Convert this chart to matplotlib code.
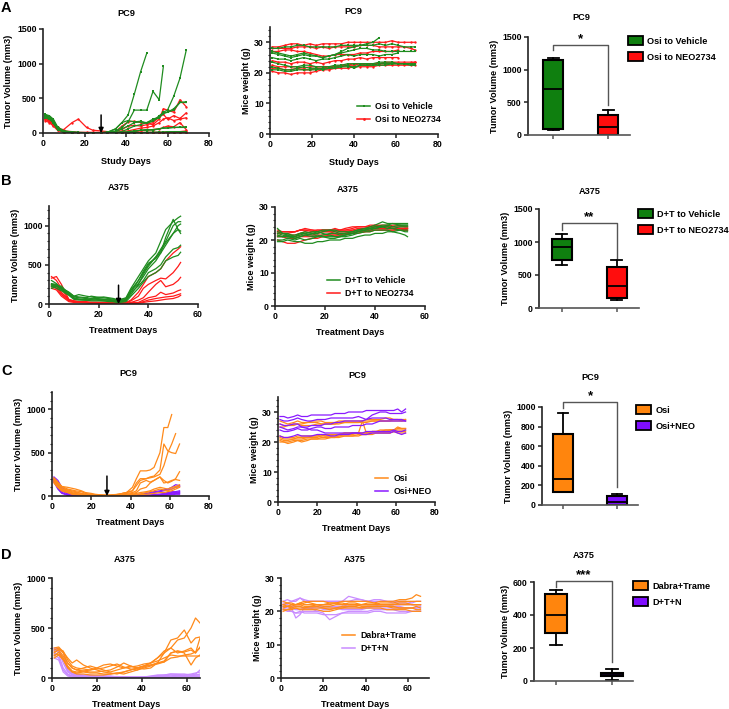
import matplotlib
matplotlib.use('Agg')
import matplotlib.pyplot as plt
import numpy as np
from matplotlib.patches import Patch
from matplotlib.lines import Line2D
from matplotlib.ticker import MultipleLocator

nan = np.nan

plt.rcParams['font.family'] = ['Liberation Sans', 'DejaVu Sans']
plt.rcParams['font.weight'] = 'bold'
plt.rcParams['axes.labelweight'] = 'bold'
plt.rcParams['font.size'] = 6

# colours
GREEN = '#1f8c1f'
RED = '#ff1a1a'
ORANGE = '#ff8a1a'
PURPLE = '#8a1aff'
LAVENDER = '#c98cff'

# ---------------- Panel A: PC9, Osi to Vehicle / NEO2734 ----------------
days_a = [1, 3, 5, 7, 10, 14, 17, 21, 24, 28, 31, 35, 38, 41, 44, 47, 50, 53, 56, 58, 60, 63, 66, 69]
a_tumor_veh = [
    [260, 240, 150, 60, 20, 10, 5, 5, 5, 5, 10, 60, 150, 260, 560, 880, 1150, nan, nan, nan, nan, nan, nan, nan],
    [270, 250, 180, 80, 30, 15, 10, 5, 5, 5, 10, 30, 80, 160, 330, 330, 330, 600, 480, 960, nan, nan, nan, nan],
    [240, 220, 160, 70, 25, 10, 5, 5, 5, 5, 5, 10, 20, 60, 100, 120, 150, 200, 230, 300, 330, 530, 790, 1190],
    [230, 250, 200, 90, 30, 10, 5, 5, 5, 5, 10, 60, 150, 180, 160, 170, 140, 170, 250, 290, 300, 350, 440, 450],
    [250, 230, 170, 70, 20, 5, 5, 5, 5, 5, 5, 5, 10, 20, 30, 40, 40, 50, 60, 70, 70, 80, 85, 90],
    [220, 200, 150, 60, 20, 5, 5, 5, 5, 5, 5, 5, 5, 10, 20, 40, 50, 40, 60, 70, 75, 80, 80, 80],
    [260, 230, 140, 50, 10, 5, 0, 0, 0, 0, 0, 0, 0, 5, 5, 5, 10, 10, 15, 15, 20, 20, 20, 20],
    [240, 210, 160, 70, 20, 10, 5, 5, 5, 5, 5, 20, 60, 100, 150, 160, 150, 180, 220, 280, 300, 330, 440, 440],
]
a_tumor_neo = [
    [200, 180, 120, 60, 50, 150, 200, 80, 40, 30, 20, 20, 100, 160, 170, 150, 140, 120, 200, 350, 330, 300, 480, 380],
    [220, 200, 150, 70, 30, 20, 10, 10, 10, 10, 10, 20, 50, 100, 110, 100, 120, 150, 230, 270, 200, 250, 210, 290],
    [210, 190, 130, 60, 20, 10, 5, 5, 5, 5, 5, 10, 20, 30, 50, 70, 80, 100, 150, 200, 220, 180, 200, 220],
    [200, 170, 120, 50, 15, 5, 5, 5, 5, 5, 5, 5, 5, 10, 20, 30, 40, 50, 60, 80, 100, 90, 150, 50],
    [240, 210, 170, 80, 20, 5, 0, 0, 0, 0, 0, 0, 0, 0, 5, 5, 10, 10, 10, 10, 15, 20, 20, 30],
    [180, 150, 100, 40, 10, 0, 0, 0, 0, 0, 0, 0, 0, 0, 0, 0, 0, 0, 5, 5, 5, 5, 5, 5],
    [230, 200, 140, 50, 10, 5, 5, 5, 5, 5, 5, 5, 5, 5, 5, 5, 5, 5, 5, 5, 10, 10, 10, 10],
]
days_aw = [1, 4, 7, 10, 13, 16, 19, 22, 25, 28, 31, 34, 37, 40, 43, 46, 49, 52, 55, 58, 61, 64, 67, 69]
a_weight_veh = [
    [27, 26.5, 26, 25.5, 26, 26.5, 26, 25.5, 25, 25.5, 26, 27, 28, 28.5, 29, 29.5, 30, 31.5, nan, nan, nan, nan, nan, nan],
    [28, 28, 28.5, 28.5, 29, 29, 28.5, 28.5, 28.5, 28.5, 28.5, 29, 29, 29, 29, 29, 29, 29.5, 29, 29.5, 29, 28.5, 28.5, 28.5],
    [26.5, 26, 25.5, 25, 25.5, 26, 25.5, 25.5, 25, 25.5, 26, 26.5, 27, 27.5, 28, 28, 27.5, 27.5, 27, 27, 27, 27, 27, 27],
    [25, 24.5, 24.5, 24, 24.5, 25, 24.5, 24, 24.5, 24.5, 25, 25.5, 26, 25.5, 26, 26, 26, 25.5, 26, 26, 26.5, nan, nan, nan],
    [22, 21.5, 21, 21, 21.5, 22, 21.5, 21.5, 21, 21.5, 22, 22, 22.5, 21.5, 22.5, 22.5, 22.5, 23, 23, 23, 23, 23, 23, 23],
    [21, 21, 20.5, 20.5, 21, 21, 21, 21, 21.5, 21.5, 21.5, 22, 22, 22, 22.5, 22.5, 22.5, 22.5, 22.5, 23, 23, 23, 22.5, 22.5],
    [23.5, 23, 22.5, 22, 22, 22.5, 22.5, 22, 22, 22, 22.5, 22.5, 23, 23, 23, 23, 23, 23.5, 23.5, 23.5, 23, 23, 23, 22.5],
]
a_weight_neo = [
    [28.5, 28.5, 29, 29.5, 29.5, 29, 29.5, 29, 29.5, 29.5, 29.5, 29.5, 30, 30, 30, 30, 30, 30, 30, 30.5, 30, 30, 30, 30],
    [28, 28, 28, 28, 28.5, 28.5, 28.5, 28, 28.5, 28, 28.5, 28.5, 28.5, 28.5, 29, 29, 29, 28.5, 28.5, 28.5, 28.5, 28.5, 28, 27.5],
    [24, 23.5, 23.5, 23, 23.5, 23.5, 23, 23.5, 23, 23.5, 24, 24, 24.5, 24.5, 25, 24.5, 25, 25, 25, 25, 25, nan, nan, nan],
    [21.5, 21.5, 21, 21, 21.5, 21, 21, 21.5, 21.5, 22, 22, 22.5, 22.5, 22.5, 23, 23, 23, 23, 23.5, 23.5, 23.5, 23.5, 23.5, 23.5],
    [20.5, 20, 20, 19.5, 20, 20, 20, 20.5, 21, 21, 21.5, 21.5, 21.5, 22, 22, 22, 22, 22.5, 22.5, 22.5, 22.5, 22.5, 22.5, 22.5],
    [22.5, 22, 22, 22, 22, 21.5, 22, 22, 22, 22, 22, 22.5, 22.5, 23, 23, 22.5, 23, 23, 23, 23, 23, 23, 23, 23.5],
    [27, 27, 27.5, 27.5, 27, 27, 26.5, 26, 25.5, 25.5, 26, 26, 26, 26, 26.5, 26.5, 27, 27, 27, 27, 27.5, nan, nan, nan],
]
# box stats: whisker low, q1, median, q3, whisker high
a_box_veh = [70, 90, 700, 1150, 1180]
a_box_neo = [0, 5, 130, 300, 380]

# ---------------- Panel B: A375, D+T to Vehicle / NEO2734 ----------------
days_b = [1, 3, 5, 8, 10, 12, 15, 17, 19, 22, 24, 26, 28, 31, 33, 36, 38, 40, 43, 45, 47, 50, 52, 53]
b_tumor_veh = [
    [300, 260, 200, 150, 100, 90, 80, 100, 90, 80, 70, 60, 50, 80, 200, 350, 450, 550, 650, 800, 950, 1050, 1100, 1120],
    [220, 230, 200, 140, 90, 80, 70, 60, 70, 60, 60, 50, 40, 60, 150, 300, 400, 500, 600, 700, 800, 1000, 1050, 1050],
    [250, 240, 210, 150, 100, 120, 100, 90, 80, 90, 80, 70, 50, 70, 180, 260, 350, 450, 550, 650, 850, 1080, 950, 930],
    [200, 220, 230, 120, 80, 60, 60, 70, 60, 50, 50, 40, 30, 50, 120, 250, 380, 480, 600, 650, 750, 900, 950, 900],
    [240, 230, 180, 120, 70, 60, 50, 50, 50, 40, 40, 30, 20, 40, 150, 230, 300, 400, 450, 500, 600, 700, 720, 750],
    [230, 200, 170, 110, 60, 50, 50, 40, 40, 40, 30, 30, 20, 30, 100, 200, 280, 350, 400, 450, 550, 600, 620, 660],
    [260, 250, 190, 130, 70, 60, 50, 60, 70, 60, 50, 40, 30, 50, 180, 300, 420, 520, 580, 680, 780, 900, 1000, 1020],
]
b_tumor_neo = [
    [330, 350, 250, 60, 40, 30, 30, 20, 20, 20, 20, 15, 10, 20, 50, 150, 250, 350, 400, 450, 550, 650, 700, 730],
    [350, 300, 200, 50, 30, 30, 20, 20, 20, 15, 15, 10, 10, 15, 40, 100, 200, 250, 300, 330, 320, 400, 480, 530],
    [250, 240, 150, 50, 40, 30, 20, 20, 20, 20, 15, 10, 10, 10, 20, 50, 80, 150, 250, 300, 220, 250, 300, 340],
    [220, 200, 120, 40, 30, 20, 20, 15, 15, 10, 10, 10, 5, 10, 15, 20, 50, 80, 100, 150, 120, 140, 170, 180],
    [200, 180, 100, 30, 20, 20, 15, 10, 10, 10, 10, 5, 5, 5, 10, 15, 30, 50, 70, 80, 90, 100, 120, 130],
    [240, 220, 140, 50, 30, 20, 20, 15, 15, 10, 10, 10, 5, 5, 10, 10, 20, 30, 40, 50, 60, 70, 90, 110],
]
b_weight_veh = [
    [23.5, 22, 22, 21, 22, 22.5, 22, 22, 22.5, 23, 22.5, 22, 22, 22.5, 23, 23.5, 24, 24.5, 25.5, 25, 25, 25, 25, 25],
    [21, 21, 21.5, 20.5, 21, 21.5, 21, 21, 21.5, 22, 22, 21.5, 21.5, 22, 22.5, 23, 23, 23.5, 24, 24.5, 24, 24.5, 24.5, 24.5],
    [20, 20, 20.5, 20, 20.5, 20, 20.5, 21, 21, 20.5, 20.5, 21, 21, 21.5, 22, 22.5, 22.5, 23, 23, 23, 22.5, 23, 22.5, 22.5],
    [22, 21.5, 21, 21, 21.5, 22, 22.5, 22.5, 22, 21.5, 21, 21, 21.5, 22, 22.5, 23, 23.5, 23.5, 24, 24, 23.5, 24, 24, 24],
    [19.5, 19.5, 20, 19.5, 19.5, 19, 19, 19.5, 19.5, 20, 20, 20, 20.5, 20.5, 21, 21.5, 21.5, 22, 22, 22.5, 22.5, 22, 21.5, 21],
    [22.5, 22, 21.5, 21.5, 22, 22, 21.5, 21.5, 21, 21, 21, 21, 21.5, 22, 22.5, 23, 23.5, 24, 24, 23.5, 23.5, 23, 23, 23],
    [21.5, 21, 21, 20.5, 21, 21.5, 22, 22.5, 23, 23, 23, 22.5, 22.5, 22.5, 23, 23.5, 23.5, 24, 24.5, 24.5, 25, 24.5, 24.5, 24.5],
]
b_weight_neo = [
    [23, 22.5, 22.5, 22.5, 23, 23.5, 23, 22.5, 23, 23, 23.5, 23, 23, 23.5, 24, 24, 24, 24.5, 24.5, 24.5, 24, 24, 24, 24],
    [22, 22, 21.5, 21.5, 22, 22.5, 22, 22, 22.5, 22.5, 22.5, 22.5, 22.5, 23, 23.5, 23.5, 23.5, 24, 24, 24, 23.5, 23.5, 23.5, 23.5],
    [20, 19.5, 19, 19, 19.5, 20, 20.5, 20.5, 21, 21.5, 21.5, 21.5, 22, 22, 22, 22.5, 23, 23, 23, 23, 23, 23.5, 23, 23],
    [22.5, 22, 22, 22.5, 23, 23, 22.5, 23, 23, 23, 23, 23, 23.5, 24, 24, 24, 24.5, 24.5, 24, 24, 24.5, 24.5, 24, 24],
    [21.5, 21, 21, 21, 21.5, 21.5, 21.5, 22, 22.5, 22.5, 22, 22, 22, 22.5, 23, 23, 23, 23.5, 23.5, 23.5, 23.5, 23.5, 23, 23],
    [21, 21, 20.5, 20.5, 21, 21, 21, 21.5, 21.5, 21.5, 21.5, 21.5, 22, 22, 22.5, 22.5, 22.5, 23, 23, 23, 23, 23, 23, 23.5],
    [22.5, 22.5, 22.5, 22.5, 23, 23, 23, 23, 23, 23, 23, 23, 23, 23, 23, 23.5, 24, 24, 23.5, 23.5, 23.5, 23.5, 23.5, 23.5],
]
b_box_veh = [650, 730, 920, 1050, 1120]
b_box_neo = [120, 150, 330, 620, 730]

# ---------------- Panel C: PC9, Osi / Osi+NEO ----------------
days_c = [1, 3, 5, 8, 10, 12, 15, 17, 20, 22, 24, 27, 29, 31, 34, 36, 38, 41, 43, 45, 48, 50, 52, 55, 57, 59, 61, 63, 65]
c_tumor_osi = [
    [200, 150, 110, 100, 90, 80, 60, 40, 30, 20, 15, 10, 10, 15, 20, 30, 40, 100, 200, 290, 290, 300, 330, 500, 790, 790, 940, nan, nan],
    [170, 120, 80, 70, 60, 50, 30, 20, 10, 10, 5, 5, 5, 10, 20, 30, 40, 60, 150, 200, 200, 220, 230, 300, 600, 520, 500, 490, 600],
    [210, 160, 110, 80, 70, 60, 50, 30, 20, 15, 10, 10, 10, 10, 20, 30, 40, 60, 120, 180, 200, 210, 220, 250, 350, 500, 600, 720, nan],
    [190, 120, 80, 60, 40, 30, 20, 15, 10, 10, 10, 5, 5, 5, 10, 20, 30, 40, 60, 150, 180, 160, 180, 220, 180, 150, 170, 200, 280],
    [160, 100, 60, 40, 30, 20, 15, 10, 10, 5, 5, 5, 5, 5, 10, 15, 20, 30, 40, 80, 100, 150, 180, 220, 150, 160, 180, 190, 180],
    [200, 140, 100, 70, 50, 40, 30, 20, 10, 10, 5, 5, 5, 5, 5, 10, 10, 20, 30, 40, 50, 60, 80, 100, 90, 80, 100, 110, 130],
    [180, 110, 70, 50, 30, 20, 10, 10, 5, 5, 5, 5, 5, 5, 5, 5, 10, 15, 20, 25, 40, 50, 60, 80, 70, 60, 80, 100, 110],
    [150, 100, 60, 40, 20, 15, 10, 5, 5, 5, 5, 0, 0, 0, 5, 5, 5, 10, 10, 15, 20, 25, 30, 40, 40, 50, 60, 80, 100],
]
c_tumor_neo = [
    [220, 180, 100, 50, 20, 10, 5, 0, 0, 0, 0, 0, 0, 0, 0, 0, 0, 5, 10, 20, 30, 40, 50, 60, 70, 80, 100, 130, 120],
    [200, 150, 80, 40, 15, 5, 0, 0, 0, 0, 0, 0, 0, 0, 0, 0, 0, 0, 5, 10, 20, 30, 40, 50, 60, 70, 80, 100, 110],
    [180, 120, 60, 30, 10, 5, 0, 0, 0, 0, 0, 0, 0, 0, 0, 0, 0, 0, 0, 5, 10, 10, 20, 20, 30, 40, 50, 50, 60],
    [210, 100, 40, 10, 0, 0, 0, 0, 0, 0, 0, 0, 0, 0, 0, 0, 0, 0, 0, 0, 5, 10, 10, 20, 20, 30, 40, 40, 50],
    [160, 80, 30, 10, 0, 0, 0, 0, 0, 0, 0, 0, 0, 0, 0, 0, 0, 0, 0, 0, 0, 5, 5, 10, 10, 20, 20, 30, 30],
    [190, 140, 70, 20, 5, 0, 0, 0, 0, 0, 0, 0, 0, 0, 0, 0, 0, 0, 0, 0, 0, 0, 5, 5, 10, 10, 15, 20, 20],
    [170, 90, 40, 10, 0, 0, 0, 0, 0, 0, 0, 0, 0, 0, 0, 0, 0, 0, 0, 0, 5, 5, 10, 15, 20, 25, 30, 35, 40],
]
c_weight_osi = [
    [27, 26.5, 26, 26.5, 27, 26.5, 26.5, 27, 27, 27, 26.5, 26.5, 26.5, 27, 27, 27, 27, 27, 27, 27.5, 27.5, 27.5, 27.5, 28, 28, 27.5, 27.5, 27.5, 27.5],
    [26, 25.5, 25.5, 26, 26, 26, 26.5, 26.5, 26.5, 26, 26, 26, 26, 26.5, 26.5, 26.5, 26.5, 26.5, 27, 27, 27, 27, 27, 27, 27, 27.5, 27.5, 27, 27],
    [21.5, 21, 21, 21, 21.5, 21.5, 21.5, 22, 22, 22.5, 22, 22, 22.5, 22.5, 23, 23, 23, 23, 27, 23, 23.5, 23.5, 23.5, 24, 24, 24, 24.5, 24.5, 24.5],
    [21, 20.5, 20.5, 21, 21, 21, 21.5, 21.5, 21.5, 22, 22, 22, 22, 22, 22.5, 22.5, 22.5, 23, 23, 23, 23.5, 23.5, 23.5, 23.5, 24, 24, 24, 24, 24],
    [20.5, 20, 20, 20.5, 20.5, 20.5, 21, 21, 21, 21.5, 21.5, 21.5, 21.5, 22, 22, 22, 22, 22.5, 22.5, 22.5, 23, 23, 23, 23, 23, 23.5, 23.5, 23.5, 23.5],
    [22, 21.5, 21.5, 21.5, 22, 22, 22, 22, 22, 22, 22.5, 22.5, 22.5, 22.5, 23, 23, 23, 23, 23, 23, 23.5, 23.5, 24, 24, 24, 24, 25, 24.5, 24.5],
    [25, 25, 25.5, 25.5, 26, 25.5, 25.5, 25.5, 26, 26, 26, 26, 26, 26, 26.5, 26.5, 26.5, 26.5, 26.5, 26.5, 27, 27, 27, 27, 27, 27, 27, 27, 27.5],
    [20, 20, 19.5, 20, 20.5, 20, 20.5, 21, 21, 21, 21, 21.5, 21.5, 21.5, 22, 22, 22, 22, 22.5, 22.5, 22.5, 23, 23, 23, 23, 23.5, 23, 23, 23],
]
c_weight_neo = [
    [28.5, 28.5, 28, 28.5, 29, 28.5, 28.5, 29, 29, 29, 29, 29, 29.5, 29.5, 29.5, 30, 30, 30, 30, 30.5, 30.5, 30.5, 30.5, 30.5, 30.5, 30.5, 31, 30, 31],
    [27.5, 27, 27, 27.5, 28, 27.5, 27, 27, 27.5, 27.5, 27.5, 28, 28, 28, 28, 28, 28, 28.5, 28, 27.5, 29, 29.5, 30, 30, 29.5, 29.5, 29.5, 29.5, 30],
    [26, 25.5, 25.5, 26, 26, 25, 25, 25.5, 25.5, 25.5, 26, 26, 26.5, 26.5, 27, 27, 27, 27, 27, 27.5, 28, 28, 28, 28, 27.5, 27.5, 27.5, 27.5, 27],
    [24, 23.5, 23.5, 24, 24.5, 24, 24, 24.5, 25, 25, 24.5, 24.5, 25, 25, 25, 25, 25.5, 25.5, 25.5, 26, 26, 26.5, 27, 27, 27, 27, 27, 27, 27],
    [25, 24.5, 24, 24.5, 25, 25, 24.5, 24, 24, 23.5, 23, 23, 23, 23, 23, 23, 23, 23, 23, 23.5, 23.5, 23.5, 23.5, 23.5, 23.5, 24, 23.5, 23.5, 24],
    [22, 21.5, 21.5, 22, 22.5, 22, 22, 22, 22.5, 22.5, 22.5, 22, 22, 22.5, 22.5, 22.5, 23, 23, 22.5, 22.5, 23, 23, 23, 23, 23, 23.5, 23, 22.5, 23],
]
c_box_osi = [130, 130, 270, 720, 940]
c_box_neo = [0, 5, 30, 95, 110]

# ---------------- Panel D: A375, Dabra+Trame / D+T+N ----------------
days_d = [1, 3, 5, 7, 9, 11, 14, 17, 20, 23, 26, 29, 32, 35, 38, 41, 44, 47, 50, 53, 56, 59, 62, 64, 66]
d_tumor_dt = [
    [280, 300, 250, 150, 100, 80, 100, 120, 100, 80, 60, 80, 100, 120, 100, 120, 150, 200, 250, 300, 380, 400, 500, 600, 550],
    [250, 290, 270, 180, 120, 100, 90, 80, 90, 100, 120, 140, 110, 90, 80, 100, 120, 150, 250, 380, 400, 480, 350, 400, 410],
    [220, 260, 200, 120, 70, 60, 70, 80, 100, 130, 140, 120, 100, 110, 120, 140, 150, 200, 270, 300, 250, 270, 300, 250, 310],
    [260, 280, 220, 150, 100, 80, 70, 60, 60, 70, 80, 110, 150, 120, 100, 90, 100, 150, 170, 250, 270, 250, 130, 200, 230],
    [200, 230, 180, 100, 60, 50, 60, 50, 50, 40, 40, 50, 60, 80, 100, 120, 150, 170, 200, 230, 220, 220, 220, 220, 220],
    [300, 310, 260, 200, 150, 180, 130, 100, 80, 60, 50, 40, 60, 80, 100, 120, 130, 140, 160, 250, 270, 260, 280, 250, 400],
    [230, 240, 190, 110, 60, 40, 40, 30, 30, 30, 40, 50, 40, 60, 80, 110, 130, 150, 160, 200, 210, 230, 240, 260, 300],
]
d_tumor_dtn = [
    [300, 290, 260, 100, 50, 40, 30, 30, 20, 20, 20, 10, 10, 10, 10, 10, 20, 30, 30, 40, 40, 40, 30, 40, 80],
    [290, 280, 200, 80, 40, 30, 20, 20, 20, 15, 10, 10, 10, 5, 5, 10, 10, 20, 20, 30, 20, 30, 30, 30, 40],
    [280, 270, 150, 60, 30, 20, 20, 15, 10, 10, 10, 5, 5, 5, 5, 5, 10, 10, 20, 20, 30, 20, 20, 30, 30],
    [250, 230, 100, 40, 20, 15, 10, 10, 10, 5, 5, 5, 5, 5, 5, 5, 5, 10, 10, 10, 20, 20, 20, 20, 20],
    [230, 200, 80, 30, 20, 10, 10, 5, 5, 5, 5, 5, 5, 5, 0, 0, 5, 5, 10, 10, 10, 15, 10, 15, 10],
    [200, 180, 60, 20, 10, 10, 5, 5, 5, 5, 0, 0, 0, 0, 0, 0, 0, 5, 5, 5, 5, 10, 10, 10, 10],
    [270, 260, 190, 70, 40, 30, 25, 20, 20, 20, 15, 15, 10, 10, 10, 10, 15, 25, 30, 40, 35, 30, 40, 50, 60],
]
d_weight_dt = [
    [22, 22.5, 22, 22, 22.5, 22, 22, 22, 21.5, 21.5, 22, 22, 22.5, 22.5, 22, 22.5, 22.5, 23, 23, 23, 23.5, 23.5, 24, 25, 24.5],
    [21, 21.5, 21, 21.5, 21.5, 21, 21, 21, 21, 20.5, 21, 21, 21.5, 21.5, 22, 22, 22, 22, 22, 22, 22.5, 22.5, 22, 22, 22],
    [20.5, 20.5, 21, 21, 20.5, 20.5, 20.5, 20.5, 20, 20, 20.5, 21, 21, 21, 21, 21.5, 21.5, 21.5, 21.5, 21.5, 21, 21, 21, 20.5, 20.5],
    [23, 22.5, 22.5, 22, 22, 22.5, 23, 23, 23, 22.5, 22.5, 22.5, 22, 22, 22, 22, 22, 22.5, 22.5, 22.5, 23, 23, 23, 23, 23],
    [22, 21.5, 21.5, 22, 22.5, 23, 22.5, 22, 22, 22, 22.5, 23, 23, 23, 23, 23, 22.5, 22, 22, 22, 22, 22, 22, 22, 22],
    [21.5, 21.5, 22, 22, 22, 21.5, 21.5, 22, 22, 22.5, 22.5, 22, 22, 22, 21.5, 21.5, 21.5, 21.5, 21.5, 21, 21, 21, 21, 21.5, 21],
    [20, 20.5, 20.5, 21, 21, 21, 21.5, 21.5, 21, 21, 21, 21.5, 21.5, 21.5, 21, 21, 21, 21, 20.5, 20.5, 20.5, 20.5, 20, 20, 20],
]
d_weight_dtn = [
    [23, 23.5, 23, 23.5, 24, 23.5, 23, 23, 23, 23, 23, 23, 24.5, 24, 23.5, 23, 23.5, 23.5, 23, 23, 23, 23, 22.5, 23, 23],
    [21, 20.5, 20, 19.5, 20, 19.5, 19.5, 19.5, 19, 19, 19, 19.5, 19.5, 19.5, 19.5, 19.5, 20, 20, 19.5, 19.5, 19.5, 19.5, 20, 20, 20],
    [21.5, 21, 21, 18, 19, 21, 21, 20, 19.5, 17.5, 18.5, 19.5, 20, 20, 20, 20, 20.5, 20.5, 20.5, 20.5, 20, 20, 20, 20, 20],
    [22.5, 22.5, 23, 23, 24, 23, 23, 23, 23, 23, 23, 23, 23, 23.5, 23.5, 23, 23, 23, 23, 22.5, 22.5, 22.5, 22, 22, 22],
    [22, 22, 21.5, 21.5, 21.5, 21, 21, 21, 21, 21, 21, 20.5, 20.5, 20.5, 20.5, 21, 21, 21, 21, 21, 21, 21, 21, 21, 21.5],
    [21.5, 21.5, 21, 20.5, 20.5, 21, 21, 21.5, 21.5, 21.5, 21.5, 21.5, 22, 22, 22, 22, 22, 21.5, 21.5, 21.5, 21.5, 21, 21, 21, 21],
    [20.5, 20, 20, 19.5, 19.5, 20, 20, 20, 20.5, 20.5, 21, 21, 21, 21, 21, 21, 21.5, 21.5, 21.5, 22, 22, 22, 22, 22, 22],
]
d_box_dt = [220, 290, 400, 530, 550]
d_box_dtn = [5, 30, 40, 50, 75]

W, H = 729, 709
fig = plt.figure(figsize=(W / 100, H / 100), dpi=100)


def add_ax(x0, x1, ybot, ytop):
    # pixel coordinates (from top-left) -> figure fractions
    ax = fig.add_axes([x0 / W, 1 - ybot / H, (x1 - x0) / W, (ybot - ytop) / H])
    for s in ['top', 'right']:
        ax.spines[s].set_visible(False)
    for s in ['left', 'bottom']:
        ax.spines[s].set_linewidth(1.2)
        ax.spines[s].set_color('#222222')
    ax.tick_params(which='major', length=3, width=1.1, labelsize=6.3, pad=1.5, color='#222222')
    ax.tick_params(which='minor', length=1.8, width=0.8, color='#222222')
    return ax


def draw_lines(ax, days, series, color, marker=None, lw=0.9):
    for vals in series:
        ax.plot(days, vals, color=color, lw=lw, marker=marker, ms=1.7, mew=0)


def line_legend(ax, entries, x_px, y_px):
    handles = [Line2D([], [], color=c, lw=1.1, marker=m, ms=2, mew=0) for c, m in entries[1]]
    ax.legend(handles, entries[0], loc='center left', bbox_to_anchor=(x_px / W, 1 - y_px / H),
              bbox_transform=fig.transFigure, frameon=False, fontsize=6.3, handlelength=1.5,
              handletextpad=0.6, labelspacing=0.5, borderpad=0, borderaxespad=0)


def box_panel(ax, stats, colors, xlim, ylim, yticks, bracket, star, leg_labels, leg_x, leg_y):
    bxp_stats = []
    for s in stats:
        bxp_stats.append(dict(whislo=s[0], q1=s[1], med=s[2], q3=s[3], whishi=s[4], fliers=[]))
    bp = ax.bxp(bxp_stats, positions=[1, 2], widths=0.38, patch_artist=True, showfliers=False,
                boxprops=dict(lw=1.5, edgecolor='k'), medianprops=dict(color='k', lw=1.3),
                whiskerprops=dict(color='k', lw=1.3), capprops=dict(color='k', lw=1.3), capwidths=0.2)
    for patch, c in zip(bp['boxes'], colors):
        patch.set_facecolor(c)
    ax.set_xlim(*xlim)
    ax.set_ylim(*ylim)
    ax.set_yticks(yticks)
    ax.set_xticks([1, 2])
    ax.set_xticklabels(['', ''])
    ax.spines['bottom'].set_color('#555555')
    ax.tick_params(axis='x', color='#555555')
    ax.set_ylabel('Tumor Volume (mm3)', fontsize=6.6, labelpad=2)
    yb, yl, yr = bracket
    ax.plot([1, 1, 2, 2], [yl, yb, yb, yr], color='#555555', lw=1, clip_on=False)
    ax.text(1.5, yb, star, ha='center', va='bottom', fontsize=9.5, fontweight='bold')
    handles = [Patch(facecolor=c, edgecolor='k', lw=1.3) for c in colors]
    ax.legend(handles, leg_labels, loc='center left', bbox_to_anchor=(leg_x / W, 1 - leg_y / H),
              bbox_transform=fig.transFigure, frameon=False, fontsize=6.6, handlelength=1.6,
              handleheight=1.1, handletextpad=0.5, labelspacing=0.75, borderpad=0, borderaxespad=0)


def arrow(ax, x, ytop):
    ax.annotate('', xy=(x, 0), xytext=(x, ytop),
                arrowprops=dict(arrowstyle='-|>', color='k', lw=1.1, mutation_scale=7, shrinkA=0, shrinkB=0))


# ---------- Row A ----------
ax = add_ax(43, 209, 133, 29)
draw_lines(ax, days_a, a_tumor_neo, RED, marker='o')
draw_lines(ax, days_a, a_tumor_veh, GREEN, marker='s')
arrow(ax, 28, 260)
ax.set_xlim(0, 80)
ax.set_ylim(0, 1500)
ax.set_xticks([0, 20, 40, 60, 80])
ax.set_yticks([0, 500, 1000, 1500])
ax.set_xlabel('Study Days', fontsize=6.6, labelpad=6)
ax.set_ylabel('Tumor Volume (mm3)', fontsize=6.6, labelpad=3)

ax = add_ax(270, 438, 134, 27)
draw_lines(ax, days_aw, a_weight_neo, RED, marker='o')
draw_lines(ax, days_aw, a_weight_veh, GREEN, marker='s')
ax.set_xlim(0, 80)
ax.set_ylim(0, 35)
ax.set_xticks([0, 20, 40, 60, 80])
ax.set_yticks([0, 10, 20, 30])
ax.yaxis.set_minor_locator(MultipleLocator(2))
ax.set_xlabel('Study Days', fontsize=6.6, labelpad=6)
ax.set_ylabel('Mice weight (g)', fontsize=6.6, labelpad=2)
line_legend(ax, (['Osi to Vehicle', 'Osi to NEO2734'], [(GREEN, 's'), (RED, 'o')]), 357, 113)

ax = add_ax(528, 630, 135, 37)
box_panel(ax, [a_box_veh, a_box_neo], ['#0f7f0f', '#ff0d0d'], (0.545, 2.4), (0, 1500),
          [0, 500, 1000, 1500], (1380, 1300, 460), '*', ['Osi to Vehicle', 'Osi to NEO2734'], 628, 49)

# ---------- Row B ----------
ax = add_ax(49, 198, 304, 206)
draw_lines(ax, days_b, b_tumor_neo, RED)
draw_lines(ax, days_b, b_tumor_veh, GREEN)
arrow(ax, 28, 240)
ax.set_xlim(0, 60)
ax.set_ylim(0, 1250)
ax.set_xticks([0, 20, 40, 60])
ax.set_yticks([0, 500, 1000])
ax.yaxis.set_minor_locator(MultipleLocator(100))
ax.set_xlabel('Treatment Days', fontsize=6.6, labelpad=5)
ax.set_ylabel('Tumor Volume (mm3)', fontsize=6.6, labelpad=2)

ax = add_ax(275, 425, 306, 207)
draw_lines(ax, days_b, b_weight_neo, RED)
draw_lines(ax, days_b, b_weight_veh, GREEN)
ax.set_xlim(0, 60)
ax.set_ylim(0, 30)
ax.set_xticks([0, 20, 40, 60])
ax.set_yticks([0, 10, 20, 30])
ax.yaxis.set_minor_locator(MultipleLocator(2))
ax.set_xlabel('Treatment Days', fontsize=6.6, labelpad=5)
ax.set_ylabel('Mice weight (g)', fontsize=6.6, labelpad=2)
line_legend(ax, (['D+T to Vehicle', 'D+T to NEO2734'], [(GREEN, None), (RED, None)]), 327, 287)

ax = add_ax(539, 639, 308, 209)
box_panel(ax, [b_box_veh, b_box_neo], ['#0f7f0f', '#ff0d0d'], (0.582, 2.4), (0, 1500),
          [0, 500, 1000, 1500], (1290, 1180, 760), '**', ['D+T to Vehicle', 'D+T to NEO2734'], 638, 222)

# ---------- Row C ----------
ax = add_ax(52, 209, 496, 392)
draw_lines(ax, days_c, c_tumor_neo, PURPLE)
draw_lines(ax, days_c, c_tumor_osi, ORANGE)
arrow(ax, 28, 230)
ax.set_xlim(0, 80)
ax.set_ylim(0, 1200)
ax.set_xticks([0, 20, 40, 60, 80])
ax.set_yticks([0, 500, 1000])
ax.yaxis.set_minor_locator(MultipleLocator(100))
ax.set_xlabel('Treatment Days', fontsize=6.6, labelpad=5)
ax.set_ylabel('Tumor Volume (mm3)', fontsize=6.6, labelpad=2)

ax = add_ax(278, 435, 502, 397)
draw_lines(ax, days_c, c_weight_osi, ORANGE)
draw_lines(ax, days_c, c_weight_neo, PURPLE)
ax.set_xlim(0, 80)
ax.set_ylim(0, 35)
ax.set_xticks([0, 20, 40, 60, 80])
ax.set_yticks([0, 10, 20, 30])
ax.yaxis.set_minor_locator(MultipleLocator(2))
ax.set_xlabel('Treatment Days', fontsize=6.6, labelpad=5)
ax.set_ylabel('Mice weight (g)', fontsize=6.6, labelpad=2)
line_legend(ax, (['Osi', 'Osi+NEO'], [(ORANGE, None), (PURPLE, None)]), 375, 485)

ax = add_ax(542, 638, 505, 407)
box_panel(ax, [c_box_osi, c_box_neo], ['#ff850d', '#7f0dff'], (0.61, 2.39), (0, 1000),
          [0, 200, 400, 600, 800, 1000], (1050, 990, 185), '*', ['Osi', 'Osi+NEO'], 636, 418)

# ---------- Row D ----------
ax = add_ax(52, 200, 678, 578)
draw_lines(ax, days_d, d_tumor_dtn, LAVENDER)
draw_lines(ax, days_d, d_tumor_dt, ORANGE)
ax.set_xlim(0, 66)
ax.set_ylim(0, 1000)
ax.set_xticks([0, 20, 40, 60])
ax.set_yticks([0, 500, 1000])
ax.yaxis.set_minor_locator(MultipleLocator(100))
ax.set_xlabel('Treatment Days', fontsize=6.6, labelpad=5)
ax.set_ylabel('Tumor Volume (mm3)', fontsize=6.6, labelpad=2)

ax = add_ax(281, 429, 678, 578)
draw_lines(ax, days_d, d_weight_dtn, LAVENDER)
draw_lines(ax, days_d, d_weight_dt, ORANGE)
ax.set_xlim(0, 70)
ax.set_ylim(0, 30)
ax.set_xticks([0, 20, 40, 60])
ax.set_yticks([0, 10, 20, 30])
ax.yaxis.set_minor_locator(MultipleLocator(2))
ax.set_xlabel('Treatment Days', fontsize=6.6, labelpad=5)
ax.set_ylabel('Mice weight (g)', fontsize=6.6, labelpad=2)
line_legend(ax, (['Dabra+Trame', 'D+T+N'], [(ORANGE, None), (LAVENDER, None)]), 342, 642)

ax = add_ax(534, 633, 681, 582)
box_panel(ax, [d_box_dt, d_box_dtn], ['#ff850d', '#7f0dff'], (0.607, 2.375), (0, 600),
          [0, 200, 400, 600], (606, 570, 115), '***', ['Dabra+Trame', 'D+T+N'], 633, 594)

# titles and panel letters (pixel positions)
titles = [('PC9', 126, 13), ('PC9', 353, 11), ('PC9', 581, 18),
          ('A375', 119, 187), ('A375', 348, 190), ('A375', 590, 191),
          ('PC9', 128, 374), ('PC9', 357, 376), ('PC9', 590, 378),
          ('A375', 125, 560), ('A375', 355, 560), ('A375', 584, 556)]
for t, x, y in titles:
    fig.text(x / W, 1 - y / H, t, ha='center', va='center', fontsize=6.6, fontweight='bold')
for letter, y in [('A', 8), ('B', 181), ('C', 371), ('D', 555)]:
    fig.text(1 / W, 1 - y / H, letter, ha='left', va='center', fontsize=10.5, fontweight='bold')

fig.savefig('out.png', dpi=100)
